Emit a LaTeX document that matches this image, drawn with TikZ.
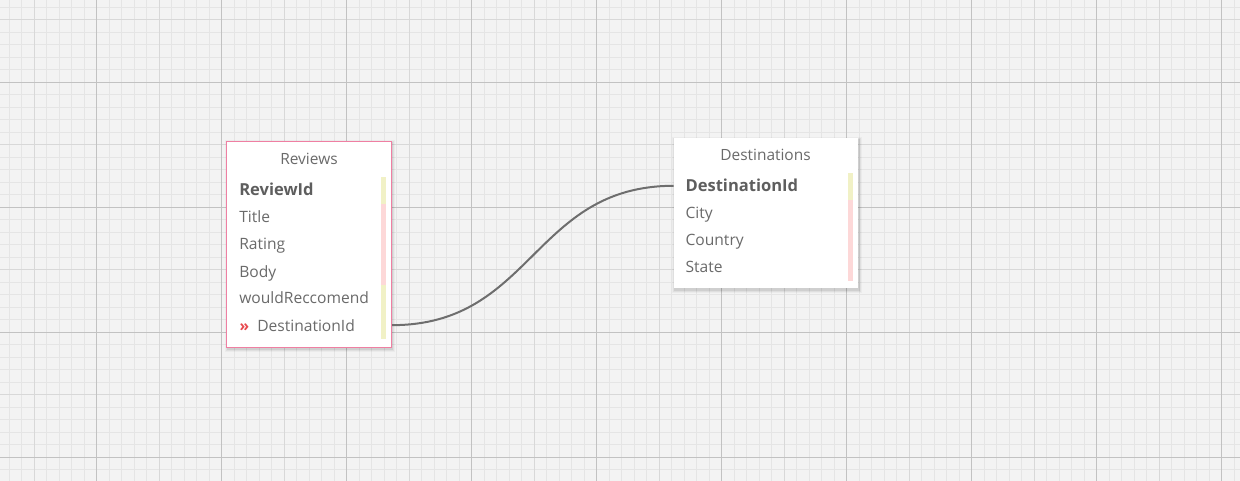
\documentclass[tikz,border=0pt]{standalone}
\usepackage{fontspec}
\setmainfont{Open Sans}
\usetikzlibrary{calc}
\definecolor{bgc}{HTML}{F3F3F3}
\definecolor{minorc}{HTML}{E5E5E5}
\definecolor{medc}{HTML}{D8D8D8}
\definecolor{majorc}{HTML}{C2C2C2}
\definecolor{txtc}{HTML}{6A6A6A}
\definecolor{boldc}{HTML}{5E5E5E}
\definecolor{pinkborder}{HTML}{EF7FA2}
\definecolor{barY}{HTML}{F1F1C6}
\definecolor{barP}{HTML}{FDD8D8}
\definecolor{linkc}{HTML}{6E6E6E}
\definecolor{fkred}{HTML}{E84A4F}
\tikzset{
  gminor/.style={draw=minorc, line width=0.95pt},
  gmed/.style={draw=medc, line width=0.95pt},
  gmajor/.style={draw=majorc, line width=0.95pt},
  tablebox/.style={rectangle, fill=white, inner sep=0pt},
  ttitle/.style={anchor=base, inner sep=0pt, text=txtc, font=\fontsize{11.6}{13}\selectfont},
  field/.style={anchor=base west, inner sep=0pt, text=txtc, font=\fontsize{11.7}{13}\selectfont},
  keyfield/.style={anchor=base west, inner sep=0pt, text=boldc, font=\fontsize{12.4}{13}\selectfont\bfseries},
  fkmark/.style={anchor=base west, inner sep=0pt, text=fkred, font=\fontsize{11.7}{13}\selectfont\bfseries},
  link/.style={draw=linkc, line width=1.5pt},
}
\begin{document}
\begin{tikzpicture}[x=0.75pt, y=-0.75pt]
\useasboundingbox (0,0) rectangle (1240,481);
\fill[bgc] (0,0) rectangle (1240,481);
% minor grid
\foreach \i in {0,...,102} {
  \draw[gminor] ({-28.3+12.5*\i},0) -- ({-28.3+12.5*\i},481);
}
\foreach \i in {0,...,42} {
  \draw[gminor] (0,{-42.7+12.5*\i}) -- (1240,{-42.7+12.5*\i});
}
% medium grid
\foreach \i in {0,...,20} {
  \draw[gmed] ({-28.3+62.5*\i},0) -- ({-28.3+62.5*\i},481);
}
\foreach \i in {0,...,9} {
  \draw[gmed] (0,{-42.7+62.5*\i}) -- (1240,{-42.7+62.5*\i});
}
% major grid
\foreach \i in {0,...,10} {
  \draw[gmajor] ({-28.3+125*\i},0) -- ({-28.3+125*\i},481);
}
\foreach \i in {0,...,4} {
  \draw[gmajor] (0,{-42.7+125*\i}) -- (1240,{-42.7+125*\i});
}

% shadows
\foreach \o/\op in {3/0.03,2/0.05,1/0.07} {
  \fill[black, opacity=\op] ({226.5-\o+1},{141.5-\o+1.5}) rectangle ({391.5+\o+0.5},{347.5+\o+1.5});
  \fill[black, opacity=\op] ({674-\o+1},{138.3-\o+1.5}) rectangle ({858+\o+0.5},{288.3+\o+1.5});
}

% Reviews table
\node[tablebox, draw=pinkborder, line width=0.8pt, minimum width=165*0.75pt, minimum height=206*0.75pt] (rev) at (309,244.5) {};
\fill[barY] (381,177.3) rectangle (385.7,204);
\fill[barP] (381,204) rectangle (385.7,285);
\fill[barY] (381,285) rectangle (385.7,339);
\node[ttitle] (revt) at (309,165) {Reviews};
\node[keyfield] (r1) at (239,196) {ReviewId};
\node[field] (r2) at (239,223) {Title};
\node[field] (r3) at (239,250) {Rating};
\node[field] (r4) at (239,277) {Body};
\node[field] (r5) at (239,304) {wouldReccomend};
\node[fkmark] (r6m) at (239.3,331) {»};
\node[field] (r6) at (257,331) {DestinationId};

% Destinations table
\node[tablebox, minimum width=184*0.75pt, minimum height=150*0.75pt] (dst) at (766,213.3) {};
\fill[barY] (848.3,173.3) rectangle (853,200);
\fill[barP] (848.3,200) rectangle (853,280.7);
\node[ttitle] (dstt) at (765.5,161) {Destinations};
\node[keyfield] (d1) at (685.3,192) {DestinationId};
\node[field] (d2) at (685.3,219) {City};
\node[field] (d3) at (685.3,246) {Country};
\node[field] (d4) at (685.3,273) {State};

% connector
\draw[link] (rev.east |- r6) .. controls +(141,0) and +(-141,0) .. (dst.west |- d1);
\end{tikzpicture}
\end{document}
